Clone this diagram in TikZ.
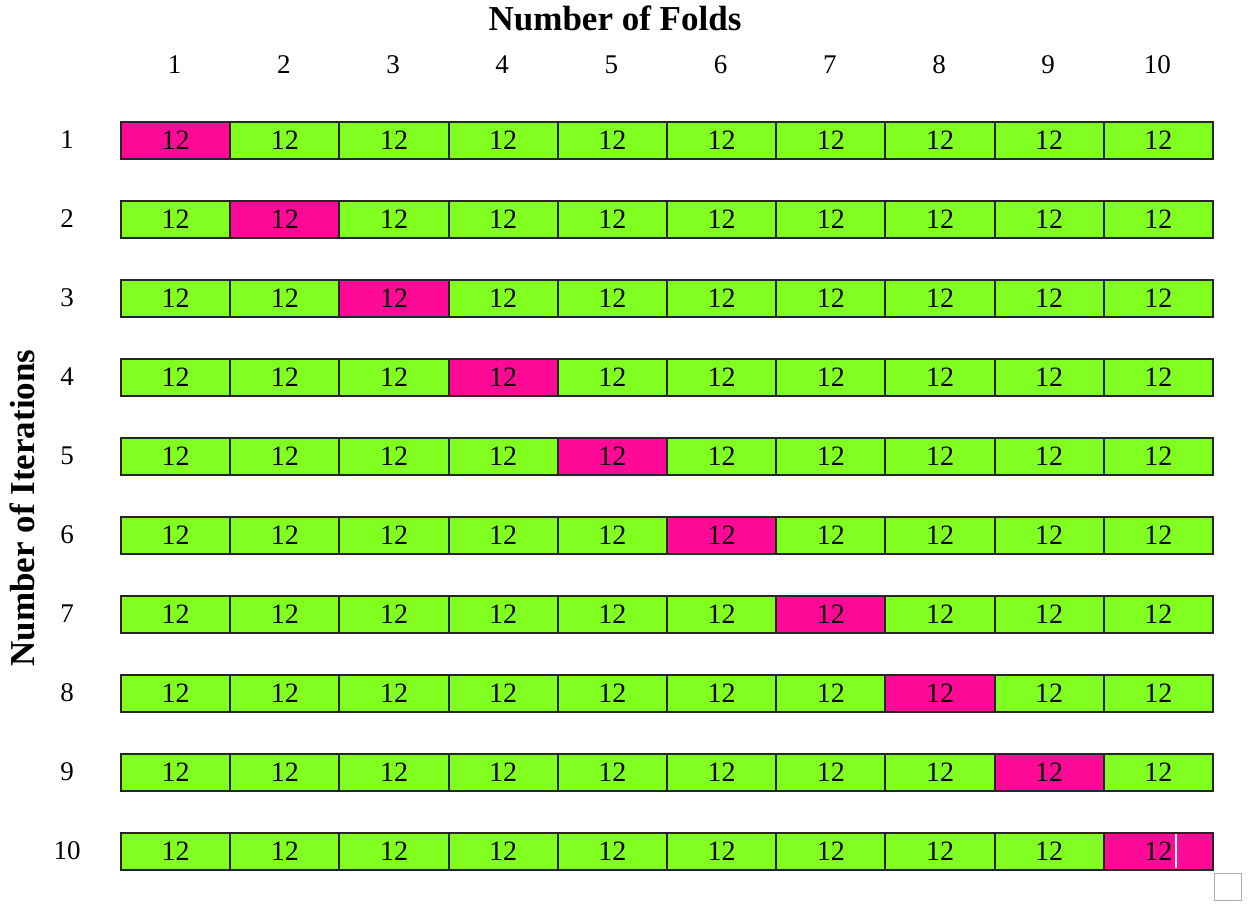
\documentclass[tikz,border=0pt]{standalone}
\usepackage{fontspec}
\setmainfont{Liberation Serif}
\definecolor{cellgreen}{HTML}{80FF20}
\definecolor{cellpink}{HTML}{FF0A96}
\definecolor{sqgray}{HTML}{A8B0B0}
\begin{document}
\begin{tikzpicture}[x=1pt,y=-1pt,
  cell/.style={draw=black!85, line width=2pt, minimum width=109.2pt, minimum height=37pt, inner sep=0pt, anchor=north west, font=\fontsize{28}{30}\selectfont},
  lab/.style={font=\fontsize{27}{29}\selectfont, inner sep=0pt},
  ttl/.style={font=\fontsize{35}{38}\selectfont\bfseries, inner sep=0pt}]
\useasboundingbox (0,0) rectangle (1250,908);
\node[ttl] (xt) at (615,18) {Number of Folds};
\node[ttl, rotate=90] (yt) at (22,508) {Number of Iterations};
\foreach \j in {1,...,10} {
  \node[lab] (col\j) at ({120+109.2*(\j-0.5)},65) {\j};
}
\foreach \i in {1,...,10} {
  \node[lab] (row\i) at (67,{121+79*(\i-1)+18.5}) {\i};
  \foreach \j in {1,...,10} {
    \ifnum\i=\j
      \node[cell, fill=cellpink] (c\i-\j) at ({120+109.2*(\j-1)},{121+79*(\i-1)}) {12};
    \else
      \node[cell, fill=cellgreen] (c\i-\j) at ({120+109.2*(\j-1)},{121+79*(\i-1)}) {12};
    \fi
  }
}
\draw[white, line width=1.2pt] (1176,834) -- (1176,868);
\node[draw=sqgray, line width=1.8pt, minimum width=27pt, minimum height=27pt, inner sep=0pt] (sq) at (1228,887) {};
\end{tikzpicture}
\end{document}
